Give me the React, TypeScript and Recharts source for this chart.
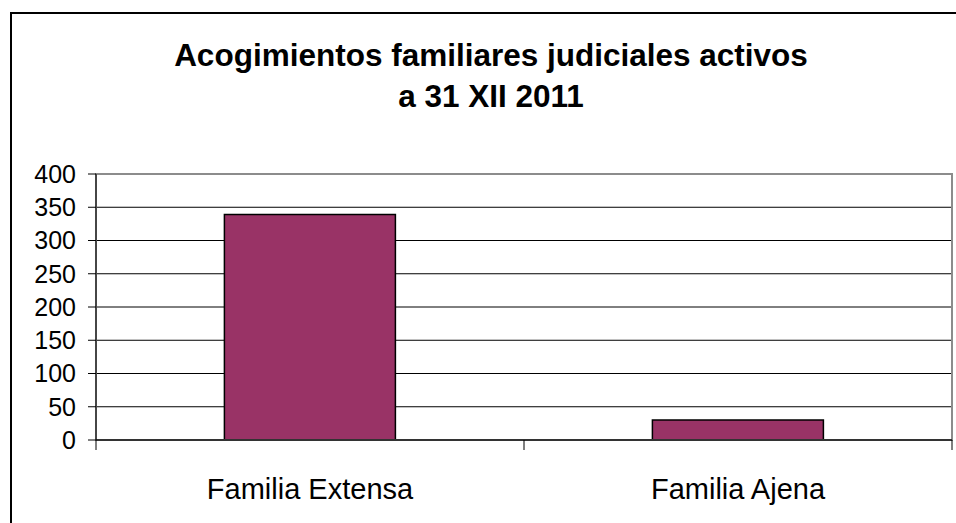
import React from 'react'
import { BarChart, Bar, XAxis, YAxis, CartesianGrid, ReferenceArea } from 'recharts'

const categories = ['Familia Extensa', 'Familia Ajena']
const acogimientos = [339, 30]
const yTicks = [0, 50, 100, 150, 200, 250, 300, 350, 400]
const titleLines = ['Acogimientos familiares judiciales activos', 'a 31 XII 2011']

const data = categories.map((c, i) => ({ name: c, value: acogimientos[i] }))

const font = '"Liberation Sans", Arial, sans-serif'
const X_TICK_SIZE = 10
const X_TICK_MARGIN = 28

// label at the category centre, tick marks on the category boundaries (excel style)
function CategoryTick(props: any) {
  const { x, y, payload, index, visibleTicksCount } = props
  const half = payload.offset || 0
  const axisY = y - X_TICK_SIZE - X_TICK_MARGIN
  const isLast = index === visibleTicksCount - 1
  return (
    <g>
      <line x1={x - half} x2={x - half} y1={axisY} y2={axisY + X_TICK_SIZE} stroke="#000" />
      {isLast && <line x1={x + half} x2={x + half} y1={axisY} y2={axisY + X_TICK_SIZE} stroke="#000" />}
      <text x={x} y={y} dy="0.71em" textAnchor="middle" fill="#000" fontSize={29} fontFamily={font}>
        {payload.value}
      </text>
    </g>
  )
}

export default function App() {
  return (
    <div style={{ position: 'fixed', left: 0, top: 0, width: 956, height: 523, overflow: 'hidden', background: '#fff', fontFamily: font }}>
      <div style={{ position: 'absolute', left: 10, top: 12, width: 980, height: 560, border: '2px solid #000', boxSizing: 'border-box' }} />
      <div style={{ position: 'absolute', left: 0, top: 35, width: 982, textAlign: 'center', fontWeight: 'bold', fontSize: 31.5, lineHeight: '41px', color: '#000' }}>
        {titleLines.map(t => <div key={t}>{t}</div>)}
      </div>
      <div style={{ position: 'absolute', left: 0, top: 0 }}>
        <BarChart width={956} height={523} data={data} margin={{ top: 174, right: 4, bottom: 0, left: 0 }} barCategoryGap="30%">
          <CartesianGrid vertical={false} stroke="#000" strokeWidth={1} />
          <ReferenceArea y1={0} y2={400} fill="none" stroke="#8c8c8c" strokeWidth={2} ifOverflow="visible" />
          <XAxis
            dataKey="name"
            height={83}
            interval={0}
            axisLine={{ stroke: '#333', strokeWidth: 2 }}
            tickLine={false}
            tickSize={X_TICK_SIZE}
            tickMargin={X_TICK_MARGIN}
            tick={<CategoryTick />}
          />
          <YAxis
            domain={[0, 400]}
            ticks={yTicks}
            width={96}
            interval={0}
            axisLine={{ stroke: '#000', strokeWidth: 1 }}
            tickLine={{ stroke: '#000', strokeWidth: 1 }}
            tickSize={8}
            tickMargin={12}
            tick={{ fill: '#000', fontSize: 25, fontFamily: font }}
          />
          <Bar dataKey="value" fill="#993366" stroke="#000" strokeWidth={1.5} isAnimationActive={false} />
        </BarChart>
      </div>
    </div>
  )
}
